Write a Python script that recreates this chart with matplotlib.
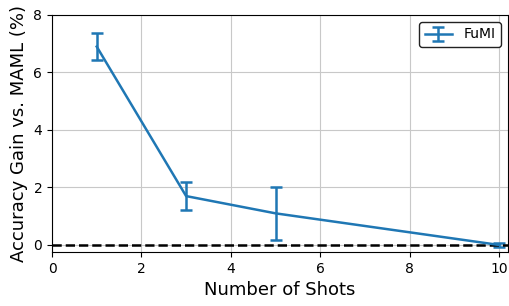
import numpy as np
import matplotlib
matplotlib.use("Agg")
import matplotlib.pyplot as plt

shots = [1, 3, 5, 10]
gain = [6.9, 1.7, 1.1, 0.0]
err = [0.47, 0.5, 0.92, 0.06]

fig, ax = plt.subplots(figsize=(5.1, 3.06), dpi=100)
fig.subplots_adjust(left=0.102, right=0.996, top=0.951, bottom=0.176)

ax.errorbar(shots, gain, yerr=err, color="#1f77b4", linewidth=1.8,
            elinewidth=1.8, capsize=4, capthick=1.8, label="FuMI")
ax.axhline(0, color="black", linestyle="--", linewidth=1.8)

ax.set_xlim(0, 10.2)
ax.set_ylim(-0.25, 8)
ax.set_xticks([0, 2, 4, 6, 8, 10])
ax.set_yticks([0, 2, 4, 6, 8])
ax.tick_params(labelsize=10)
ax.grid(True, color="#c8c8c8")
ax.set_xlabel("Number of Shots", fontsize=13)
ax.set_ylabel("Accuracy Gain vs. MAML (%)", fontsize=13)
leg = ax.legend(loc="upper right", fontsize=10, framealpha=1)
leg.get_frame().set_edgecolor("#222222")

fig.savefig("out.png", dpi=100)
